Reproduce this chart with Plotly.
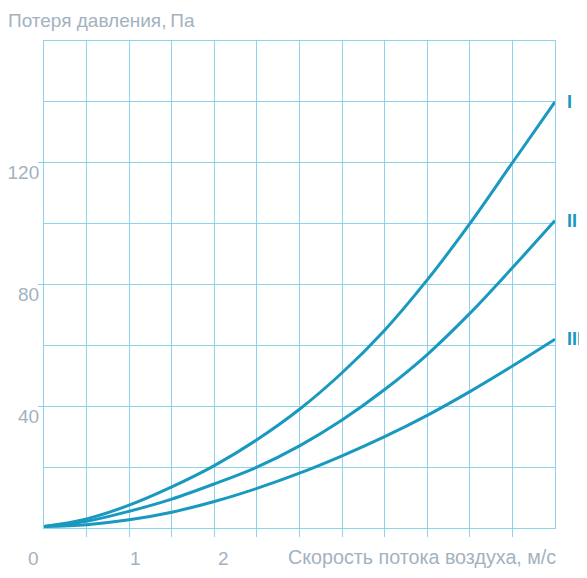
import plotly.graph_objects as go

# скорость потока воздуха, м/с
speed = [0, 0.5, 1, 1.5, 2, 2.5, 3, 3.5, 4, 4.5, 5, 5.5, 6]

# потеря давления, Па
loss_1 = [0.5, 3, 7.5, 13.5, 20.5, 29, 39, 51, 65, 81.5, 100, 120, 140]
loss_2 = [0.5, 2.2, 5.5, 9.5, 14.5, 20, 27, 35.5, 45.5, 57, 70.5, 85.5, 101]
loss_3 = [0.5, 1.1, 2.7, 5.2, 8.7, 13, 18, 23.7, 30, 37, 44.8, 53.2, 62]

curve_names = ["I", "II", "III"]
y_labels = [40, 80, 120]
x_labels = [0, 1, 2]

line_color = "#1999bf"
grid_color = "#8cd2ea"
text_color = "#a3b2bf"
font = "Liberation Sans"

fig = go.Figure()

for name, loss in zip(curve_names, [loss_1, loss_2, loss_3]):
    fig.add_trace(go.Scatter(
        x=speed,
        y=loss,
        mode="lines",
        line=dict(color=line_color, width=3, shape="spline"),
        name=name,
        showlegend=False,
    ))
    fig.add_annotation(
        x=speed[-1], y=loss[-1],
        text=name,
        showarrow=False,
        xanchor="left",
        yanchor="middle",
        xshift=10,
        font=dict(family=font, size=18, color=line_color, weight="bold"),
    )

# подписи оси x (сдвинуты как в оригинале)
for v, shift in zip(x_labels, [-11, 6, 9]):
    fig.add_annotation(
        x=v, y=-0.063, xref="x", yref="paper",
        text=str(v),
        showarrow=False,
        yanchor="middle",
        xshift=shift,
        font=dict(family=font, size=19, color=text_color),
    )

fig.add_annotation(
    x=1.006, y=-0.06, xref="paper", yref="paper",
    text="Скорость потока воздуха, м/с",
    showarrow=False,
    xanchor="right",
    yanchor="middle",
    font=dict(family=font, size=19.7, color=text_color),
)

fig.add_annotation(
    x=-0.0705, y=1.042, xref="paper", yref="paper",
    text="Потеря давления,\u2009Па",
    showarrow=False,
    xanchor="left",
    yanchor="middle",
    xshift=-2,
    font=dict(family=font, size=19, color=text_color),
)

fig.update_xaxes(
    range=[0, 6],
    tickvals=[0.5, 1, 1.5, 2, 2.5, 3, 3.5, 4, 4.5, 5, 5.5],
    showticklabels=False,
    ticks="outside",
    ticklen=8,
    tickcolor=grid_color,
    showgrid=True,
    gridcolor=grid_color,
    gridwidth=1,
    zeroline=False,
    showline=True,
    linecolor=grid_color,
    linewidth=1,
    mirror=True,
    automargin=False,
)

fig.update_yaxes(
    range=[0, 160],
    tickvals=y_labels,
    ticks="outside",
    ticklen=5,
    tickcolor=grid_color,
    ticklabelshift=10,
    ticklabelstandoff=-5,
    tickfont=dict(family=font, size=19, color=text_color),
    showgrid=True,
    gridcolor=grid_color,
    gridwidth=1,
    minor=dict(tickvals=[20, 60, 100, 140], showgrid=True, gridcolor=grid_color, ticks=""),
    zeroline=False,
    showline=True,
    linecolor=grid_color,
    linewidth=1,
    mirror=True,
    automargin=False,
)

# страница сдвигает график на 8 px (отступ body), поэтому размеры меньше окна
fig.update_layout(
    width=579,
    height=562,
    margin=dict(l=36, r=32, t=33, b=42),
    plot_bgcolor="white",
    paper_bgcolor="white",
    font=dict(family=font, color=text_color),
)

fig.write_html("out.html")
